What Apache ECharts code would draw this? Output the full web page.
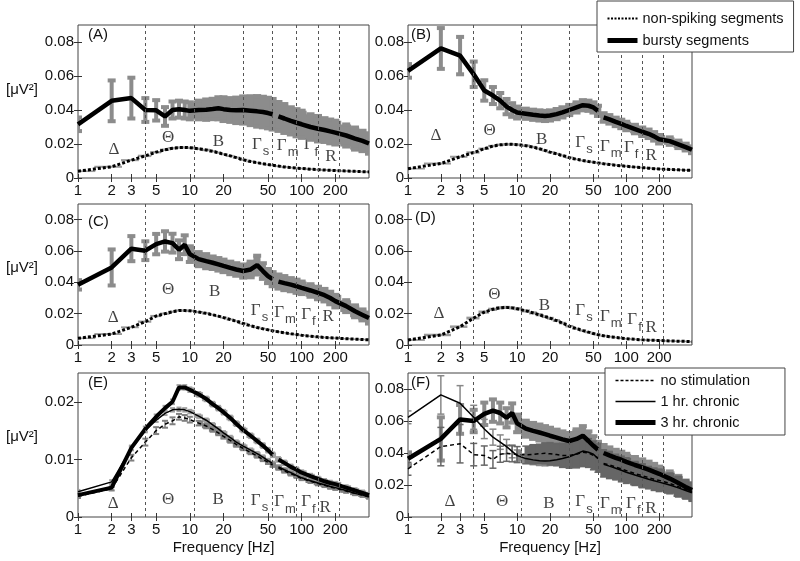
<!DOCTYPE html>
<html><head><meta charset="utf-8">
<script src="https://cdn.jsdelivr.net/npm/echarts@6/dist/echarts.min.js"></script>
<style>html,body{margin:0;padding:0;background:#fff}#c{width:800px;height:561px}</style>
</head><body><div id="c"></div>
<script>
// ---------------- data ----------------
const FREQ = [1,2,3,4,5,6,7,8,9,10, 12,14,16,18,20, 23,26,30,35,40, 45,50,55,62,70, 80,90,100,120,140, 160,180,200,250,300, 350,400];
const X_TICKS = [1,2,3,5,10,20,50,100,200];
const Y_TICKS = [0,0.02,0.04,0.06,0.08];
const Y_TICKS_E = [0,0.01,0.02];
const BAND_EDGES = [4,11,30,55,90,140,220];
const BAND_NAMES = ['Δ','Θ','B','{g|Γ}{s|s}','{g|Γ}{s|m}','{g|Γ}{s|f}','R'];
const NOTCH_HZ = 58;   // line traces are interrupted around the 60 Hz notch

// panel A
const A_BURST = [.0316,.0454,.0470,.0400,.0398,.0362,.0400,.0405,.0400,.0395, .0400,.0402,.0406,.0410,.0405, .0400,.0398,.0400,.0396,.0392, .0388,.0382,.0375,.0362,.0350, .0336,.0325,.0316,.0300,.0290, .0282,.0274,.0267,.0250,.0232, .0218,.0203];
const A_BURST_ERR = [.004,.012,.012,.007,.006,.0055,.005,.005,.005,.005, .0055,.006,.006,.0065,.007, .007,.0075,.008,.0085,.009, .009,.009,.009,.0085,.0085, .008,.008,.008,.0075,.0075, .007,.007,.007,.0065,.0065, .006,.006];
const A_NS = [.0040,.0066,.0105,.0130,.0152,.0166,.0175,.0179,.0180,.0178, .0172,.0165,.0157,.0149,.0140, .0130,.0120,.0107,.0097,.0090, .0084,.0079,.0075,.0070,.0065, .0061,.0058,.0056,.0052,.0049, .0047,.0045,.0044,.0041,.0039, .0037,.0036];
const A_NS_ERR = [.0005,.0006,.0006,.0007,.0007,.0007,.0007,.0007,.0007,.0007, .0007,.0007,.0006,.0006,.0006, .0006,.0006,.0006,.0005,.0005, .0005,.0005,.0005,.0005,.0005, .0005,.0005,.0005,.0005,.0005, .0005,.0005,.0005,.0005,.0005, .0005,.0005];
const A_LBL_F = [2.1,6.4,18,43,75,121,183];
const A_LBL_Y = [.0168,.0237,.0217,.0196,.0192,.0194,.0126];

// panel B
const B_BURST = [.0630,.0762,.0720,.0610,.0515,.0485,.0455,.0420,.0400,.0385, .0378,.0372,.0368,.0365,.0368, .0376,.0386,.0400,.0415,.0428, .0425,.0415,.0395,.0356,.0345, .0330,.0318,.0306,.0288,.0272, .0260,.0245,.0228,.0217,.0198, .0182,.0166];
const B_BURST_ERR = [.004,.012,.011,.0075,.006,.005,.0045,.0045,.004,.0035, .003,.003,.003,.003,.003, .003,.003,.003,.003,.003, .003,.003,.003,.0025,.0025, .0025,.0025,.0025,.0025,.0025, .0025,.0025,.0025,.0022,.0022, .002,.002];
const B_NS = [.0055,.0085,.0125,.0150,.0172,.0188,.0195,.0198,.0198,.0196, .0190,.0182,.0172,.0162,.0152, .0142,.0132,.0120,.0110,.0103, .0097,.0093,.0089,.0084,.0080, .0075,.0072,.0069,.0064,.0061, .0058,.0055,.0053,.0050,.0048, .0046,.0045];
const B_NS_ERR = [.0005,.0006,.0006,.0007,.0007,.0007,.0007,.0007,.0007,.0007, .0007,.0007,.0006,.0006,.0006, .0006,.0006,.0006,.0005,.0005, .0005,.0005,.0005,.0005,.0005, .0005,.0005,.0005,.0005,.0005, .0005,.0005,.0005,.0005,.0005, .0005,.0005];
const B_LBL_F = [1.8,5.6,16.8,41,72,111,169];
const B_LBL_Y = [.0247,.0280,.0227,.0207,.0188,.0182,.0132];

// panel C
const C_BURST = [.0384,.0495,.0615,.0602,.0644,.0661,.0650,.0608,.0640,.0580, .0548,.0535,.0525,.0515,.0505, .0492,.0482,.0472,.0482,.0510, .0472,.0440,.0420,.0405,.0395, .0385,.0375,.0365,.0348,.0332, .0318,.0300,.0280,.0248,.0215, .0192,.0172];
const C_BURST_ERR = [.003,.0115,.008,.006,.0065,.0065,.006,.006,.006,.005, .0045,.0045,.004,.004,.004, .004,.004,.0042,.005,.006, .005,.0045,.0045,.0045,.0045, .0042,.0042,.004,.004,.004, .004,.004,.004,.0038,.0038, .0035,.0035];
const C_NS = [.0043,.0070,.0113,.0149,.0185,.0200,.0212,.0220,.0220,.0218, .0210,.0202,.0193,.0184,.0175, .0163,.0152,.0137,.0123,.0112, .0104,.0097,.0091,.0084,.0078, .0072,.0067,.0062,.0056,.0052, .0048,.0046,.0044,.0040,.0037, .0035,.0033];
const C_NS_ERR = [.0005,.0006,.0006,.0007,.0007,.0007,.0007,.0007,.0007,.0007, .0007,.0007,.0006,.0006,.0006, .0006,.0006,.0006,.0005,.0005, .0005,.0005,.0005,.0005,.0005, .0005,.0005,.0005,.0005,.0005, .0005,.0005,.0005,.0005,.0005, .0005,.0005];
const C_LBL_F = [2.06,6.4,16.7,42,71,115,173];
const C_LBL_Y = [.0175,.0352,.0341,.0218,.0207,.0196,.0181];

// panel D
const D_NS = [.0032,.0064,.0117,.0172,.0210,.0228,.0238,.0240,.0237,.0231, .0218,.0205,.0193,.0181,.0171, .0156,.0140,.0120,.0104,.0092, .0082,.0073,.0066,.0059,.0053, .0048,.0044,.0040,.0036,.0033, .0031,.0030,.0029,.0026,.0024, .0023,.0021];
const D_NS_ERR = [.0006,.0008,.0008,.0009,.0010,.0010,.0010,.0010,.0010,.0010, .0010,.0010,.0010,.0009,.0009, .0009,.0008,.0008,.0007,.0007, .0007,.0006,.0006,.0006,.0006, .0005,.0005,.0005,.0005,.0005, .0005,.0005,.0005,.0005,.0005, .0005,.0005];
const D_LBL_F = [1.92,6.2,17.8,41,72,119,169];
const D_LBL_Y = [.0203,.0324,.0250,.0218,.0181,.0160,.0111];

// panel E
const E_NS = [.0036,.0049,.0103,.0130,.0150,.0161,.0167,.0174,.0172,.0169, .0163,.0158,.0152,.0146,.0140, .0133,.0126,.0119,.0112,.0106, .0100,.0095,.0090,.0085,.0080, .0075,.0071,.0067,.0062,.0058, .0055,.0052,.0050,.0045,.0041, .0038,.0035];
const E_NS_ERR = [.0003,.0003,.0005,.0006,.0006,.0006,.0006,.0005,.0005,.0005, .0004,.0004,.0004,.0004,.0004, .0004,.0004,.0003,.0003,.0003, .0003,.0003,.0003,.0003,.0003, .0003,.0003,.0003,.0003,.0003, .0003,.0003,.0003,.0003,.0003, .0003,.0003];
const E_1H = [.0044,.0061,.0119,.0150,.0168,.0180,.0186,.0187,.0186,.0183, .0175,.0168,.0160,.0153,.0146, .0138,.0130,.0123,.0116,.0110, .0104,.0098,.0093,.0087,.0082, .0077,.0072,.0068,.0063,.0059, .0056,.0053,.0051,.0046,.0041, .0038,.0035];
const E_1H_ERR = [.0003,.0003,.0003,.0003,.0003,.0003,.0003,.0003,.0003,.0003, .0003,.0003,.0003,.0003,.0003, .0003,.0003,.0003,.0003,.0003, .0003,.0003,.0003,.0003,.0003, .0003,.0003,.0003,.0003,.0003, .0003,.0003,.0003,.0003,.0003, .0003,.0003];
const E_3H = [.0038,.0051,.0120,.0153,.0174,.0189,.0200,.0225,.0225,.0221, .0213,.0205,.0196,.0189,.0182, .0172,.0162,.0151,.0141,.0132, .0124,.0116,.0108,.0100,.0094, .0087,.0082,.0077,.0071,.0066, .0062,.0059,.0057,.0051,.0046, .0042,.0038];
const E_3H_ERR = [.0004,.0004,.0004,.0004,.0004,.0004,.0004,.0004,.0004,.0004, .0004,.0004,.0004,.0004,.0004, .0004,.0004,.0004,.0004,.0004, .0004,.0004,.0004,.0004,.0004, .0004,.0004,.0004,.0004,.0004, .0004,.0004,.0004,.0004,.0004, .0004,.0004];
const E_LBL_F = [2.06,6.4,17.9,42,71,115,162];
const E_LBL_Y = [.0023,.0031,.0031,.0029,.0026,.0026,.0017];

// panel F
const F_NS = [.0301,.0440,.0458,.0390,.0384,.0360,.0392,.0398,.0395,.0390, .0388,.0392,.0395,.0398,.0395, .0390,.0385,.0385,.0392,.0405, .0400,.0385,.0370,.0335,.0325, .0312,.0300,.0290,.0272,.0258, .0246,.0236,.0229,.0210,.0190, .0172,.0158];
const F_NS_ERR = [.004,.012,.012,.007,.006,.0055,.005,.005,.005,.005, .0055,.006,.006,.0065,.007, .007,.0075,.008,.0085,.009, .009,.009,.009,.0085,.0085, .008,.008,.008,.0075,.0075, .007,.007,.007,.0065,.0065, .006,.006];
const F_1H = [.0623,.0763,.0711,.0623,.0550,.0499,.0468,.0440,.0410,.0384, .0365,.0357,.0352,.0350,.0352, .0358,.0366,.0376,.0395,.0412, .0405,.0392,.0365,.0330,.0318, .0305,.0292,.0280,.0262,.0248, .0236,.0226,.0218,.0200,.0182, .0166,.0152];
const F_1H_ERR = [.004,.012,.011,.0075,.006,.005,.0045,.0045,.004,.0035, .003,.003,.003,.003,.003, .003,.003,.003,.003,.003, .003,.003,.003,.0025,.0025, .0025,.0025,.0025,.0025,.0025, .0025,.0025,.0025,.0022,.0022, .002,.002];
const F_3H = [.0364,.0488,.0610,.0600,.0645,.0665,.0650,.0620,.0650,.0585, .0552,.0538,.0528,.0518,.0508, .0496,.0485,.0475,.0488,.0508, .0475,.0445,.0420,.0400,.0385, .0370,.0358,.0345,.0325,.0310, .0296,.0282,.0270,.0240,.0212, .0188,.0168];
const F_3H_ERR = [.004,.0135,.009,.007,.007,.007,.0065,.006,.006,.0055, .005,.005,.005,.005,.005, .005,.005,.005,.006,.006, .006,.006,.005,.005,.005, .005,.005,.005,.005,.005, .005,.005,.0045,.0045,.0045, .004,.004];
const F_LBL_F = [2.43,7.3,19.6,41,72,116,168];
const F_LBL_Y = [.0094,.0094,.0083,.0094,.0083,.0083,.0052];

// ---------------- chart ----------------
const FONT = 'Liberation Sans, Arial, sans-serif';
const LOG = v => Math.log10(v);
const XMAX = LOG(400);
const XT = X_TICKS.map(LOG);

const LAYOUT = [
  {left:78, top:25, width:291, height:153, ymax:0.09, yt:Y_TICKS},
  {left:408, top:25, width:284, height:153, ymax:0.09, yt:Y_TICKS},
  {left:78, top:204, width:291, height:141, ymax:0.09, yt:Y_TICKS},
  {left:408, top:204, width:284, height:141, ymax:0.09, yt:Y_TICKS},
  {left:78, top:373, width:291, height:144, ymax:0.025, yt:Y_TICKS_E},
  {left:408, top:373, width:284, height:144, ymax:0.09, yt:Y_TICKS}
];

const grids = [], xAxes = [], yAxes = [], series = [];
LAYOUT.forEach((L, p) => {
  grids.push({left:L.left, top:L.top, width:L.width, height:L.height, show:true, borderColor:'#444', borderWidth:1, backgroundColor:'transparent'});
  const xb = {type:'value', gridIndex:p, min:0, max:XMAX, splitLine:{show:false}, axisLine:{show:false},
    axisTick:{show:true, inside:true, length:4, customValues:XT, lineStyle:{color:'#333'}}};
  xAxes.push(Object.assign({}, xb, {position:'bottom',
    axisLabel:{customValues:XT, formatter:v => String(Math.round(Math.pow(10, v))), fontSize:15, color:'#111', margin:5, fontFamily:FONT},
    name: p >= 4 ? 'Frequency [Hz]' : '', nameLocation:'middle', nameGap:23,
    nameTextStyle:{fontSize:15, color:'#111', fontFamily:FONT}}));
  xAxes.push(Object.assign({}, xb, {position:'top', axisLabel:{show:false}}));
  const yb = {type:'value', gridIndex:p, min:0, max:L.ymax, splitLine:{show:false}, axisLine:{show:false},
    axisTick:{show:true, inside:true, length:4, customValues:L.yt, lineStyle:{color:'#333'}}};
  yAxes.push(Object.assign({}, yb, {position:'left',
    axisLabel:{customValues:L.yt, formatter:v => v === 0 ? '0' : v.toFixed(2), fontSize:15, color:'#111', margin:4, fontFamily:FONT}}));
  yAxes.push(Object.assign({}, yb, {position:'right', axisLabel:{show:false}}));
});

function lineS(p, name, mean, w, type, notch) {
  const data = [];
  FREQ.forEach((f, i) => {
    data.push([LOG(f), mean[i]]);
    if (notch && f < NOTCH_HZ && FREQ[i+1] > NOTCH_HZ) data.push([LOG(NOTCH_HZ), null]);
  });
  return {type:'line', name, xAxisIndex:2*p, yAxisIndex:2*p, data, connectNulls:false,
    symbol:'none', showSymbol:false, z:3, silent:true, animation:false,
    lineStyle:{color:'#000', width:w, type:type || 'solid'}, itemStyle:{color:'#000'}};
}
function errS(p, mean, err, st) {
  const xs = FREQ.map(LOG);
  return {type:'custom', xAxisIndex:2*p, yAxisIndex:2*p, z:1, silent:true, animation:false, clip:true,
    data: FREQ.map((f,i)=>[xs[i], mean[i]-err[i], mean[i]+err[i]]),
    encode:{x:0, y:[1,2]},
    renderItem:(params, api) => {
      const i = params.dataIndex;
      const x = api.value(0), lo = api.value(1), hi = api.value(2);
      const a = api.coord([x, hi]), b = api.coord([x, lo]);
      const ch = [];
      const fill = {fill:st.color};
      if (FREQ[i] >= st.bandFrom) {
        const prev = i > 0 ? api.coord([xs[i-1], hi])[0] : a[0];
        const next = i < xs.length-1 ? api.coord([xs[i+1], hi])[0] : a[0];
        let l = a[0] - (a[0]-prev)/2, r = a[0] + (next-a[0])/2;
        if (!(FREQ[i-1] >= st.bandFrom)) l = a[0] - st.barW/2;
        ch.push({type:'rect', shape:{x:l-0.5, y:a[1], width:r-l+1, height:b[1]-a[1]}, style:fill});
      } else {
        ch.push({type:'rect', shape:{x:a[0]-st.barW/2, y:a[1], width:st.barW, height:b[1]-a[1]}, style:fill});
      }
      if (st.capW) {
        ch.push({type:'rect', shape:{x:a[0]-st.capW/2, y:a[1]-st.capH/2, width:st.capW, height:st.capH}, style:fill});
        ch.push({type:'rect', shape:{x:b[0]-st.capW/2, y:b[1]-st.capH/2, width:st.capW, height:st.capH}, style:fill});
      }
      return {type:'group', children:ch};
    }};
}
function bandS(p, lf, ly) {
  return {type:'scatter', xAxisIndex:2*p, yAxisIndex:2*p, z:0, silent:true, animation:false,
    symbolSize:1, itemStyle:{color:'rgba(0,0,0,0)'},
    data: lf.map((f,i)=>[LOG(f), ly[i]]),
    label:{show:true, position:'inside', formatter:pr => BAND_NAMES[pr.dataIndex], color:'#111',
      fontFamily:'Liberation Serif, Times New Roman, serif', fontSize:17,
      rich:{g:{fontFamily:'Liberation Serif, Times New Roman, serif', fontSize:17, color:'#111'},
            s:{fontFamily:FONT, fontSize:13, color:'#111', padding:[14,0,0,1]}}},
    markLine:{symbol:'none', silent:true, animation:false, label:{show:false},
      lineStyle:{color:'#555', width:1, type:[3,3]},
      data: BAND_EDGES.map(f=>({xAxis:LOG(f)}))}};
}

const BIG = {color:'#8c8c8c', barW:4, capW:8, capH:4, bandFrom:10};
const NSB = {color:'#9a9a9a', barW:3, capW:0, capH:0, bandFrom:1};
const SMALL = {color:'#a0a0a0', barW:2, capW:5, capH:2, bandFrom:10};

// A
series.push(bandS(0, A_LBL_F, A_LBL_Y));
series.push(errS(0, A_BURST, A_BURST_ERR, BIG), errS(0, A_NS, A_NS_ERR, NSB));
series.push(lineS(0, 'non-spiking segments', A_NS, 3, [3,2]), lineS(0, 'bursty segments', A_BURST, 4.5, null, true));
// B
series.push(bandS(1, B_LBL_F, B_LBL_Y));
series.push(errS(1, B_BURST, B_BURST_ERR, BIG), errS(1, B_NS, B_NS_ERR, NSB));
series.push(lineS(1, 'non-spiking segments', B_NS, 3, [3,2]), lineS(1, 'bursty segments', B_BURST, 4.5, null, true));
// C
series.push(bandS(2, C_LBL_F, C_LBL_Y));
series.push(errS(2, C_BURST, C_BURST_ERR, BIG), errS(2, C_NS, C_NS_ERR, NSB));
series.push(lineS(2, 'non-spiking segments', C_NS, 3, [3,2]), lineS(2, 'bursty segments', C_BURST, 4.5, null, true));
// D
series.push(bandS(3, D_LBL_F, D_LBL_Y));
series.push(errS(3, D_NS, D_NS_ERR, NSB));
series.push(lineS(3, 'non-spiking segments', D_NS, 3, [3,2]));
// E
series.push(bandS(4, E_LBL_F, E_LBL_Y));
series.push(errS(4, E_3H, E_3H_ERR, SMALL), errS(4, E_1H, E_1H_ERR, SMALL),
  errS(4, E_NS, E_NS_ERR, {color:'#808080', barW:1.5, capW:6, capH:2, bandFrom:12}));
series.push(lineS(4, 'no stimulation', E_NS, 1.5, [4,3], true), lineS(4, '1 hr. chronic', E_1H, 1.5, null, true), lineS(4, '3 hr. chronic', E_3H, 4, null, true));
// F
series.push(bandS(5, F_LBL_F, F_LBL_Y));
series.push(errS(5, F_3H, F_3H_ERR, BIG),
  errS(5, F_1H, F_1H_ERR, {color:'#888', barW:1.5, capW:7, capH:1.5, bandFrom:10}),
  errS(5, F_NS, F_NS_ERR, {color:'#666', barW:1.5, capW:7, capH:1.5, bandFrom:12}));
series.push(lineS(5, 'no stimulation', F_NS, 1.5, [4,3], true), lineS(5, '1 hr. chronic', F_1H, 1.5, null, true), lineS(5, '3 hr. chronic', F_3H, 4.5, null, true));

const legendText = {fontSize:14.5, color:'#111', fontFamily:FONT};
const hideSym = {opacity:0, color:'rgba(0,0,0,0)', borderWidth:0};
const option = {
  animation:false,
  backgroundColor:'#fff',
  grid: grids, xAxis: xAxes, yAxis: yAxes, series,
  legend: [
    {data:[{name:'non-spiking segments', lineStyle:{width:2, type:[2,1.5]}}, {name:'bursty segments', lineStyle:{width:5}}],
     orient:'vertical', left:597, top:1,
     itemWidth:30, itemHeight:14, itemGap:7, padding:[10,10,4,8], selectedMode:false, itemStyle:hideSym,
     backgroundColor:'#fff', borderColor:'#444', borderWidth:1, borderRadius:0, textStyle:legendText, z:10},
    {data:[{name:'no stimulation', lineStyle:{width:1.5, type:[3,2]}}, {name:'1 hr. chronic', lineStyle:{width:1.5}}, {name:'3 hr. chronic', lineStyle:{width:5}}],
     orient:'vertical', left:605, top:368,
     itemWidth:40, itemHeight:14, itemGap:6, padding:[5,35,5,8], selectedMode:false, itemStyle:hideSym,
     backgroundColor:'#fff', borderColor:'#444', borderWidth:1, borderRadius:0, textStyle:legendText, z:10}
  ],
  graphic: [
    {type:'text', left:88, top:27, style:{text:'(A)', font:'15px Liberation Sans', fill:'#111'}},
    {type:'text', left:411, top:27, style:{text:'(B)', font:'15px Liberation Sans', fill:'#111'}},
    {type:'text', left:88, top:214, style:{text:'(C)', font:'15px Liberation Sans', fill:'#111'}},
    {type:'text', left:415, top:210, style:{text:'(D)', font:'15px Liberation Sans', fill:'#111'}},
    {type:'text', left:88, top:375, style:{text:'(E)', font:'15px Liberation Sans', fill:'#111'}},
    {type:'text', left:411, top:375, style:{text:'(F)', font:'15px Liberation Sans', fill:'#111'}},
    {type:'text', left:6, top:82, style:{text:'[μV²]', font:'15px Liberation Sans', fill:'#111'}},
    {type:'text', left:6, top:260, style:{text:'[μV²]', font:'15px Liberation Sans', fill:'#111'}},
    {type:'text', left:6, top:429, style:{text:'[μV²]', font:'15px Liberation Sans', fill:'#111'}}
  ]
};
const chart = echarts.init(document.getElementById('c'), null, {renderer:'canvas'});
chart.setOption(option);
</script></body></html>
